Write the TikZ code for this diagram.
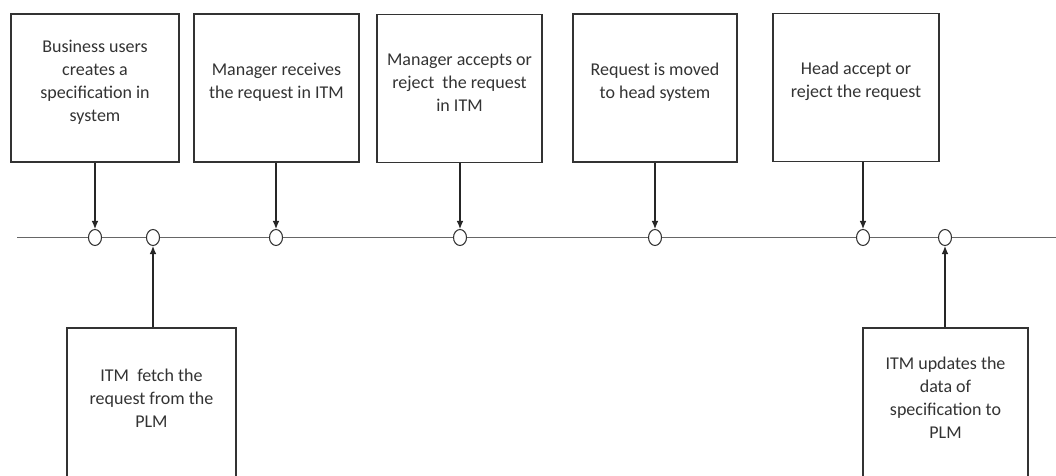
\documentclass[tikz,border=0pt]{standalone}
\usepackage{fontspec}
\setmainfont{Carlito}
\usetikzlibrary{shapes.geometric,arrows.meta,calc}
\begin{document}
\begin{tikzpicture}[x=0.75pt,y=-0.75pt,
  box/.style={draw=black!80,line width=0.8pt,inner sep=0pt},
  topbox/.style={box,minimum height=111pt},
  botbox/.style={box,minimum height=112.5pt},
  lbl/.style={align=center,inner sep=0pt,font=\fontsize{13.5}{17.25}\selectfont,text=black!80},
  evt/.style={ellipse,draw=black!80,line width=0.8pt,fill=white,minimum width=9.75pt,minimum height=12pt,inner sep=0pt},
  arr/.style={draw=black!85,line width=0.8pt,-{Latex[length=6pt,width=5pt]}},
  axisline/.style={draw=black!60,line width=1pt}]
\fill[white] (0,0) rectangle (1056,475);
\clip (0,0) rectangle (1056,475);

% top boxes
\node[topbox,minimum width=126pt]    (b1) at (95,88)    {};
\node[topbox,minimum width=123.75pt] (b2) at (276.5,88) {};
\node[topbox,minimum width=123.75pt] (b3) at (459.5,88.5) {};
\node[topbox,minimum width=123pt]    (b4) at (655,88)   {};
\node[topbox,minimum width=124.5pt]  (b5) at (856,87.5) {};
% bottom boxes
\node[botbox,minimum width=126.75pt] (b6) at (151.5,403) {};
\node[botbox,minimum width=123.75pt] (b7) at (945.5,403) {};

% labels
\node[lbl] (t1) at ([yshift=4.5pt]b1.center) {Business users\\creates a\\specification in\\system};
\node[lbl] (t2) at ([yshift=4.5pt]b2.center) {Manager receives\\the request in ITM};
\node[lbl] (t3) at ([yshift=4.5pt]b3.center) {Manager accepts or\\reject~ the request\\in ITM};
\node[lbl] (t4) at ([yshift=4.5pt]b4.center) {Request is moved\\to head system};
\node[lbl] (t5) at ([yshift=4.5pt]b5.center) {Head accept or\\reject the request};
\node[lbl] (t6) at ([yshift=3.8pt]b6.center) {ITM~ fetch the\\request from the\\PLM};
\node[lbl] (t7) at ([yshift=3.8pt]b7.center) {ITM updates the\\data of\\specification to\\PLM};

% timeline
\coordinate (start) at (17,237.5);
\coordinate (end) at (1056,237.5);
\node[evt] (c1) at (95,237.5) {};
\node[evt] (c2) at (153,237.5) {};
\node[evt] (c3) at (276,237.5) {};
\node[evt] (c4) at (460,237.5) {};
\node[evt] (c5) at (655,237.5) {};
\node[evt] (c6) at (863,237.5) {};
\node[evt] (c7) at (945,237.5) {};
\draw[axisline] (start) -- (c1) (c1) -- (c2) (c2) -- (c3) (c3) -- (c4)
  (c4) -- (c5) (c5) -- (c6) (c6) -- (c7) (c7) -- (end);

% arrows
\draw[arr] (b1.south -| c1) -- (c1.north);
\draw[arr] (b2.south -| c3) -- (c3.north);
\draw[arr] (b3.south -| c4) -- (c4.north);
\draw[arr] (b4.south -| c5) -- (c5.north);
\draw[arr] (b5.south -| c6) -- (c6.north);
\draw[arr] (b6.north -| c2) -- (c2.south);
\draw[arr] (b7.north -| c7) -- (c7.south);
\end{tikzpicture}
\end{document}
